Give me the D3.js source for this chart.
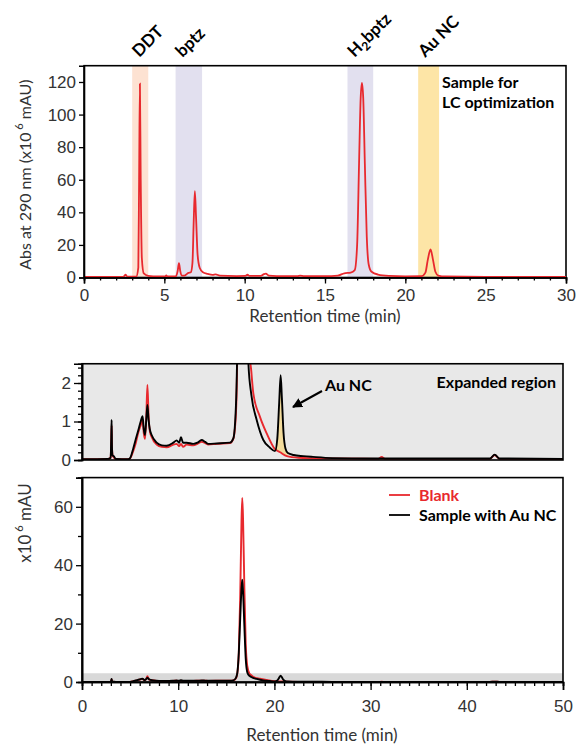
<!DOCTYPE html>
<html>
<head>
<meta charset="utf-8">
<script src="https://cdn.jsdelivr.net/npm/d3@7"></script>
<style>
  body { margin: 0; background: #fff; }
  svg { display: block; font-family: Lato, "Open Sans", sans-serif; }
  .tick text { font-size: 17px; fill: #333; }
</style>
</head>
<body>
<script>
// top chromatogram: sample for LC optimization, [min, x10^6 mAU]
const lcTrace = [
  [0, 0.3], [1.5, 0.3], [2.45, 0.4], [2.58, 1.8], [2.7, 0.5], [3.25, 0.5], [3.38, 6],
  [3.43, 60], [3.48, 119], [3.53, 60], [3.6, 12], [3.72, 2.5], [4.0, 1.0], [4.6, 0.6],
  [5.05, 0.6], [5.12, 1.3], [5.2, 0.6], [5.7, 0.7], [5.83, 4], [5.91, 8.8], [5.99, 4],
  [6.1, 1.2], [6.25, 1.2], [6.5, 2.8], [6.65, 3.2], [6.75, 9], [6.83, 35], [6.9, 53],
  [6.97, 38], [7.07, 14], [7.2, 6], [7.4, 3.2], [7.7, 2.2], [8.0, 1.6], [8.2, 1.9],
  [8.45, 1.2], [9.5, 0.9], [10.05, 1.0], [10.18, 1.7], [10.3, 1.0], [11.0, 1.0],
  [11.2, 2.1], [11.32, 2.4], [11.5, 1.2], [12.0, 0.9], [13.3, 0.9], [13.45, 1.1],
  [13.7, 0.8], [15.0, 0.8], [15.8, 1.2], [16.2, 2.6], [16.6, 3.0], [16.85, 4.5],
  [17.0, 20], [17.12, 70], [17.22, 110], [17.3, 119.5], [17.38, 110], [17.48, 70],
  [17.6, 25], [17.72, 8], [17.9, 3.5], [18.3, 1.8], [19.0, 1.0], [20.0, 0.7], [21.0, 0.8],
  [21.25, 3], [21.4, 11], [21.57, 17.2], [21.72, 11], [21.87, 3.5], [22.05, 1.2],
  [22.5, 0.6], [25, 0.4], [30, 0.4]
];

// bottom chromatograms, [min, x10^6 mAU]
const blank = [
  [0, 0.02], [2.7, 0.03], [2.98, 0.06], [3.05, 0.6], [3.08, 0.9], [3.12, 0.3], [3.2, 0.1],
  [3.5, 0.03], [4.8, 0.02], [5.0, 0.04], [5.35, 0.25], [5.6, 0.45], [5.86, 0.72],
  [6.1, 0.9], [6.3, 1.04], [6.42, 0.7], [6.55, 0.55], [6.68, 1.1], [6.8, 1.95],
  [6.92, 1.15], [7.05, 0.75], [7.24, 0.6], [7.76, 0.4], [8.3, 0.34], [8.8, 0.33],
  [9.5, 0.4], [9.84, 0.42], [10.1, 0.36], [10.29, 0.42], [10.5, 0.34], [10.88, 0.4],
  [11.57, 0.38], [12.0, 0.42], [12.44, 0.47], [12.8, 0.44], [13.13, 0.4], [14.0, 0.42],
  [15.38, 0.44], [15.73, 0.55], [16.0, 1.2], [16.15, 3], [16.3, 10], [16.45, 30],
  [16.58, 55], [16.66, 63], [16.74, 56], [16.88, 32], [17.02, 13], [17.18, 5.5],
  [17.4, 2.9], [17.6, 2.3], [17.81, 1.73], [18.5, 1.12], [19.2, 0.69], [20.06, 0.28],
  [20.6, 0.2], [21.3, 0.1], [22.5, 0.06], [25, 0.04], [30.8, 0.03], [31.15, 0.08],
  [31.5, 0.03], [42.4, 0.03], [42.9, 0.13], [43.4, 0.03], [50, 0.02]
];
const sample = [
  [0, 0.02], [2.7, 0.03], [2.98, 0.06], [3.04, 0.6], [3.08, 1.04], [3.12, 0.3],
  [3.18, 0.12], [3.3, 0.1], [3.5, 0.03], [4.8, 0.02], [5.0, 0.05], [5.33, 0.3],
  [5.6, 0.55], [5.86, 0.78], [6.1, 1.0], [6.3, 1.14], [6.42, 0.8], [6.55, 0.65],
  [6.68, 1.05], [6.8, 1.43], [6.92, 1.05], [7.05, 0.8], [7.24, 0.65], [7.76, 0.45],
  [8.3, 0.38], [8.8, 0.37], [9.5, 0.45], [9.84, 0.51], [10.1, 0.45], [10.29, 0.59],
  [10.5, 0.45], [10.88, 0.45], [11.57, 0.42], [12.0, 0.45], [12.44, 0.52], [12.8, 0.47],
  [13.13, 0.42], [14.0, 0.43], [15.38, 0.45], [15.73, 0.56], [16.0, 1.4], [16.15, 3.2],
  [16.3, 10], [16.45, 22], [16.58, 32], [16.66, 35], [16.74, 31], [16.88, 19],
  [17.02, 8], [17.16, 3.6], [17.3, 2.5], [17.6, 1.7], [18.16, 1.04], [18.85, 0.52],
  [19.54, 0.32], [20.06, 0.23], [20.3, 0.55], [20.5, 1.5], [20.65, 2.2], [20.78, 1.6],
  [20.95, 0.7], [21.15, 0.3], [21.4, 0.18], [22.0, 0.13], [23.0, 0.1], [24.0, 0.08],
  [26, 0.05], [30, 0.04], [42.4, 0.04], [42.9, 0.14], [43.4, 0.04], [50, 0.03]
];

// highlighted windows of the top panel
const bandNames = ["DDT", "bptz", "H2bptz", "Au NC"];
const bandStart = [3.0, 5.7, 16.4, 20.8];
const bandEnd = [4.0, 7.35, 18.0, 22.1];
const bandColors = ["#fde2d2", "#e2e0ef", "#e2e0ef", "#fde5a6"];

const topYTicks = [0, 20, 40, 60, 80, 100, 120];
const topXTicks = [0, 5, 10, 15, 20, 25, 30];
const expYTicks = [0, 1, 2];
const botYTicks = [0, 20, 40, 60];
const botXTicks = [0, 10, 20, 30, 40, 50];
const aucWindow = [20.06, 21.4];
const grayBandTop = 3;

const RED = "#e8292e";
const W = 576, H = 745;

const svg = d3.select("body").append("svg").attr("width", W).attr("height", H);

function styleAxis(g) {
  g.select(".domain").attr("stroke", "#000").attr("stroke-width", 1.6);
  g.selectAll(".tick line").attr("stroke", "#000").attr("stroke-width", 1.3);
}

// ---------- top panel ----------
const x1 = d3.scaleLinear().domain([0, 30]).range([84, 566]);
const y1 = d3.scaleLinear().domain([0, 130]).range([277.5, 65.7]);

svg.selectAll(".band")
  .data(bandNames)
  .enter()
  .append("rect")
  .attr("class", "band")
  .attr("x", (d, i) => x1(bandStart[i]))
  .attr("width", (d, i) => x1(bandEnd[i]) - x1(bandStart[i]))
  .attr("y", y1(130))
  .attr("height", y1(0) - y1(130))
  .attr("fill", (d, i) => bandColors[i]);

svg.append("rect")
  .attr("x", x1(0)).attr("y", y1(130))
  .attr("width", x1(30) - x1(0)).attr("height", y1(0) - y1(130))
  .attr("fill", "none").attr("stroke", "#000").attr("stroke-width", 1.6);

const line1 = d3.line().x(d => x1(d[0])).y(d => y1(d[1])).curve(d3.curveMonotoneX);
svg.append("path").datum(lcTrace)
  .attr("d", line1).attr("fill", "none").attr("stroke", RED).attr("stroke-width", 1.8);

svg.append("g").attr("transform", `translate(0,${y1(0)})`)
  .call(d3.axisBottom(x1).ticks(30).tickSize(3).tickFormat("")).call(styleAxis);
svg.append("g").attr("transform", `translate(0,${y1(0)})`)
  .call(d3.axisBottom(x1).tickValues(topXTicks).tickSize(6).tickPadding(5)).call(styleAxis);
svg.append("g").attr("transform", `translate(${x1(0)},0)`)
  .call(d3.axisLeft(y1).tickValues(topYTicks).tickSize(5).tickPadding(3)).call(styleAxis);

// rotated peak labels
bandNames.forEach((name, i) => {
  const t = svg.append("text")
    .attr("transform", `translate(${x1(bandStart[i]) + 7},58) rotate(-45)`)
    .attr("font-size", 17).attr("font-weight", "bold").attr("fill", "#000");
  if (name === "H2bptz") {
    t.append("tspan").text("H");
    t.append("tspan").attr("font-size", 12).attr("dy", 4).text("2");
    t.append("tspan").attr("dy", -4).text("bptz");
  } else {
    t.text(name);
  }
});

svg.append("text").attr("x", 442).attr("y", 88)
  .attr("font-size", 16).attr("font-weight", "bold").text("Sample for");
svg.append("text").attr("x", 442).attr("y", 108)
  .attr("font-size", 16).attr("font-weight", "bold").text("LC optimization");

const yl1 = svg.append("text")
  .attr("transform", `translate(31,${(y1(0) + y1(130)) / 2 + 3}) rotate(-90)`)
  .attr("text-anchor", "middle").attr("font-size", 16).attr("fill", "#333");
yl1.append("tspan").text("Abs at 290 nm (x10");
yl1.append("tspan").attr("font-size", 11).attr("dy", -8).text(" 6");
yl1.append("tspan").attr("dy", 8).text(" mAU)");

svg.append("text").attr("x", (x1(0) + x1(30)) / 2).attr("y", 322)
  .attr("text-anchor", "middle").attr("font-size", 17).attr("fill", "#333")
  .text("Retention time (min)");

// ---------- expanded region panel ----------
const x2 = d3.scaleLinear().domain([0, 50]).range([82, 563]);
const yE = d3.scaleLinear().domain([0, 2.5]).range([460, 363.75]);

svg.append("defs").append("clipPath").attr("id", "clipE")
  .append("rect").attr("x", x2(0)).attr("y", yE(2.5))
  .attr("width", x2(50) - x2(0)).attr("height", yE(0) - yE(2.5));

svg.append("rect")
  .attr("x", x2(0)).attr("y", yE(2.5))
  .attr("width", x2(50) - x2(0)).attr("height", yE(0) - yE(2.5))
  .attr("fill", "#e8e8e8");

const bisect = d3.bisector(d => d[0]).left;
function blankAt(t) {
  const i = Math.max(1, bisect(blank, t));
  const a = blank[i - 1], b = blank[i];
  return a[1] + (b[1] - a[1]) * (t - a[0]) / (b[0] - a[0]);
}
const aucPts = sample.filter(d => d[0] >= aucWindow[0] && d[0] <= aucWindow[1]);
const gE = svg.append("g").attr("clip-path", "url(#clipE)");
gE.append("path").datum(aucPts)
  .attr("d", d3.area().x(d => x2(d[0])).y0(d => yE(blankAt(d[0]))).y1(d => yE(d[1]))
    .curve(d3.curveMonotoneX))
  .attr("fill", "#f3dc9c");

const lineE = d3.line().x(d => x2(d[0])).y(d => yE(d[1])).curve(d3.curveMonotoneX);
gE.append("path").datum(blank).attr("d", lineE)
  .attr("fill", "none").attr("stroke", RED).attr("stroke-width", 1.9);
gE.append("path").datum(sample).attr("d", lineE)
  .attr("fill", "none").attr("stroke", "#000").attr("stroke-width", 1.9);

svg.append("rect")
  .attr("x", x2(0)).attr("y", yE(2.5))
  .attr("width", x2(50) - x2(0)).attr("height", yE(0) - yE(2.5))
  .attr("fill", "none").attr("stroke", "#000").attr("stroke-width", 1.6);

svg.append("g").attr("transform", `translate(${x2(0)},0)`)
  .call(d3.axisLeft(yE).tickValues(d3.range(0, 2.41, 0.2)).tickSize(4).tickFormat(""))
  .call(styleAxis);
svg.append("g").attr("transform", `translate(${x2(0)},0)`)
  .call(d3.axisLeft(yE).tickValues(expYTicks).tickSize(8).tickPadding(3)
    .tickFormat(d3.format("d"))).call(styleAxis);

svg.append("defs").append("marker").attr("id", "arrow")
  .attr("viewBox", "0 0 10 10").attr("refX", 9).attr("refY", 5)
  .attr("markerWidth", 5).attr("markerHeight", 5).attr("orient", "auto")
  .append("path").attr("d", "M0,0 L10,5 L0,10 z").attr("fill", "#000");
svg.append("line")
  .attr("x1", 322).attr("y1", 391).attr("x2", 293).attr("y2", 407)
  .attr("stroke", "#000").attr("stroke-width", 2).attr("marker-end", "url(#arrow)");
svg.append("text").attr("x", 325).attr("y", 391)
  .attr("font-size", 16).attr("font-weight", "bold").text("Au NC");
svg.append("text").attr("x", 556).attr("y", 388).attr("text-anchor", "end")
  .attr("font-size", 16).attr("font-weight", "bold").text("Expanded region");

// ---------- full-scale bottom panel ----------
const yB = d3.scaleLinear().domain([0, 70]).range([682, 477.6]);

svg.append("rect")
  .attr("x", x2(0)).attr("y", yB(grayBandTop))
  .attr("width", x2(50) - x2(0)).attr("height", yB(0) - yB(grayBandTop))
  .attr("fill", "#d9d9d9");

const lineB = d3.line().x(d => x2(d[0])).y(d => yB(d[1])).curve(d3.curveMonotoneX);
svg.append("path").datum(blank).attr("d", lineB)
  .attr("fill", "none").attr("stroke", RED).attr("stroke-width", 1.9);
svg.append("path").datum(sample).attr("d", lineB)
  .attr("fill", "none").attr("stroke", "#000").attr("stroke-width", 1.9);

svg.append("rect")
  .attr("x", x2(0)).attr("y", yB(70))
  .attr("width", x2(50) - x2(0)).attr("height", yB(0) - yB(70))
  .attr("fill", "none").attr("stroke", "#000").attr("stroke-width", 1.6);

svg.append("g").attr("transform", `translate(0,${yB(0)})`)
  .call(d3.axisBottom(x2).ticks(50).tickSize(4).tickFormat("")).call(styleAxis);
svg.append("g").attr("transform", `translate(0,${yB(0)})`)
  .call(d3.axisBottom(x2).tickValues(botXTicks).tickSize(8).tickPadding(10)).call(styleAxis);
svg.append("g").attr("transform", `translate(${x2(0)},0)`)
  .call(d3.axisLeft(yB).tickValues([10, 30, 50]).tickSize(4).tickFormat("")).call(styleAxis);
svg.append("g").attr("transform", `translate(${x2(0)},0)`)
  .call(d3.axisLeft(yB).tickValues(botYTicks).tickSize(6).tickPadding(3)).call(styleAxis);

// legend
const legendNames = ["Blank", "Sample with Au NC"];
const legendColors = [RED, "#000"];
const legend = svg.selectAll(".legend")
  .data(legendNames)
  .enter()
  .append("g")
  .attr("class", "legend")
  .attr("transform", (d, i) => `translate(389,${495 + i * 20})`);
legend.append("line")
  .attr("x1", 0).attr("x2", 21).attr("y1", 0).attr("y2", 0)
  .attr("stroke", (d, i) => legendColors[i]).attr("stroke-width", 1.8);
legend.append("text")
  .attr("x", 30).attr("y", 5.5)
  .attr("font-size", 16).attr("font-weight", "bold")
  .attr("fill", (d, i) => legendColors[i])
  .text(d => d);

const yl2 = svg.append("text")
  .attr("transform", "translate(31,523) rotate(-90)")
  .attr("text-anchor", "middle").attr("font-size", 17).attr("fill", "#333");
yl2.append("tspan").text("x10");
yl2.append("tspan").attr("font-size", 11).attr("dy", -8).text(" 6");
yl2.append("tspan").attr("dy", 8).text(" mAU");

svg.append("text").attr("x", 322).attr("y", 741)
  .attr("text-anchor", "middle").attr("font-size", 17).attr("fill", "#333")
  .text("Retention time (min)");
</script>
</body>
</html>
